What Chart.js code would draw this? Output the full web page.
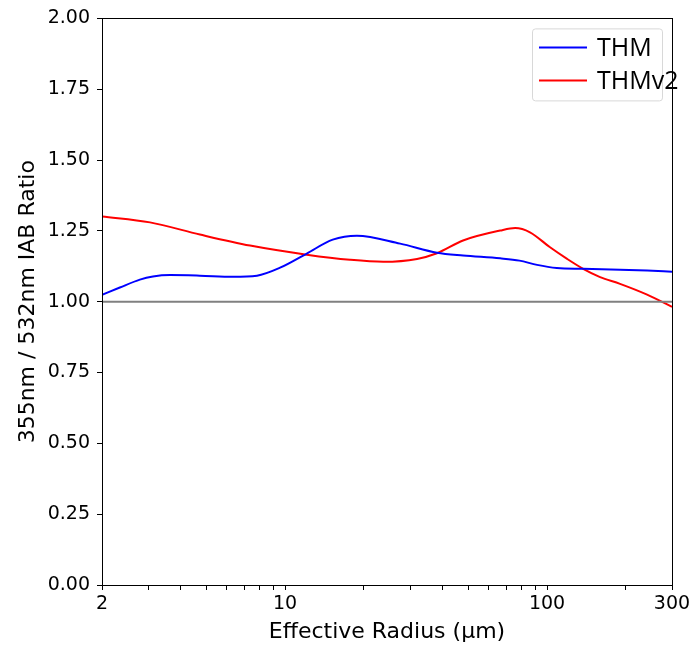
<!DOCTYPE html>
<html>
<head>
<meta charset="utf-8">
<script src="https://cdn.jsdelivr.net/npm/chart.js@4.4.1/dist/chart.umd.min.js"></script>
<style>
  html, body { margin: 0; padding: 0; background: #fff; }
  #wrap { width: 695px; height: 645px; }
</style>
</head>
<body>
<div id="wrap"><canvas id="ratioChart"></canvas></div>
<script>
// data
const radiusThm = [2, 2.34, 2.79, 3.13, 3.64, 4.73, 6.32, 7.81, 9.57, 12.1, 15.2, 18.8, 27.5, 38, 47.8, 66.2, 78.5, 91.6, 109, 137, 190, 241, 300];
const ratioThm  = [1.024, 1.05, 1.078, 1.089, 1.094, 1.092, 1.088, 1.092, 1.12, 1.17, 1.219, 1.233, 1.205, 1.173, 1.163, 1.153, 1.145, 1.13, 1.119, 1.116, 1.113, 1.11, 1.106];
const radiusThm2 = [2, 3.05, 4.73, 7.35, 12.1, 17.7, 23.7, 31.9, 38, 47.8, 66.2, 75.6, 86.1, 102.7, 119.3, 137.4, 159.4, 190, 241, 300];
const ratioThm2  = [1.301, 1.28, 1.237, 1.198, 1.166, 1.148, 1.141, 1.151, 1.171, 1.216, 1.251, 1.26, 1.245, 1.192, 1.151, 1.116, 1.087, 1.063, 1.025, 0.982];
const refRadius = [2, 300];
const refRatio  = [1.0, 1.0];
const xTicks = [2, 3, 4, 5, 6, 7, 8, 9, 10, 20, 30, 40, 50, 60, 70, 80, 90, 100, 200, 300];
const xLabelled = [2, 10, 100, 300];
const yTicks = [0, 0.25, 0.5, 0.75, 1.0, 1.25, 1.5, 1.75, 2.0];

function toPoints(xs, ys) {
    return xs.map((x, i) => ({ x: x, y: ys[i] }));
}

// box round the plot area, like matplotlib
const frameBox = {
    id: 'frameBox',
    afterDatasetsDraw(chart) {
        const a = chart.chartArea, ctx = chart.ctx;
        ctx.save();
        ctx.strokeStyle = '#000';
        ctx.lineWidth = 1;
        ctx.strokeRect(Math.round(a.left) + 0.5, Math.round(a.top) + 0.5,
            Math.round(a.right - a.left), Math.round(a.bottom - a.top));
        ctx.restore();
    }
};

// legend drawn inside the plot, top right
const boxLegend = {
    id: 'boxLegend',
    afterDraw(chart) {
        const ctx = chart.ctx;
        const a = chart.chartArea;
        const items = chart.data.datasets.filter(d => d.label);
        const x0 = a.right - 140, y0 = a.top + 10, w = 130, h = 72;
        ctx.save();
        ctx.fillStyle = 'rgba(255,255,255,0.85)';
        ctx.strokeStyle = '#d8d8d8';
        ctx.lineWidth = 1;
        ctx.beginPath();
        ctx.roundRect(x0 + 0.5, y0 + 0.5, w, h, 3);
        ctx.fill();
        ctx.stroke();
        ctx.font = '25px "Open Sans", sans-serif';
        ctx.textBaseline = 'middle';
        items.forEach((d, i) => {
            const yy = y0 + 19 + i * 33;
            ctx.strokeStyle = d.borderColor;
            ctx.lineWidth = 2;
            ctx.beginPath();
            ctx.moveTo(x0 + 7, yy);
            ctx.lineTo(x0 + 55, yy);
            ctx.stroke();
            ctx.fillStyle = '#000';
            ctx.fillText(d.label, x0 + 65, yy + 1);
        });
        ctx.restore();
    }
};

const ctx = document.getElementById('ratioChart').getContext('2d');
const ratioChart = new Chart(ctx, {
    type: 'line',
    data: {
        datasets: [
            {
                label: '',
                data: toPoints(refRadius, refRatio),
                borderColor: '#808080',
                borderWidth: 2,
                pointRadius: 0,
                tension: 0
            },
            {
                label: 'THM',
                data: toPoints(radiusThm, ratioThm),
                borderColor: '#0000ff',
                borderWidth: 2,
                pointRadius: 0,
                cubicInterpolationMode: 'monotone'
            },
            {
                label: 'THMv2',
                data: toPoints(radiusThm2, ratioThm2),
                borderColor: '#ff0000',
                borderWidth: 2,
                pointRadius: 0,
                cubicInterpolationMode: 'monotone'
            }
        ]
    },
    options: {
        responsive: true,
        maintainAspectRatio: false,
        animation: false,
        layout: { padding: { left: 0, top: 18, right: 23, bottom: 0 } },
        plugins: {
            legend: { display: false },
            tooltip: { enabled: false }
        },
        scales: {
            x: {
                type: 'logarithmic',
                min: 2,
                max: 300,
                afterBuildTicks: (scale) => {
                    scale.ticks = xTicks.map(v => ({ value: v }));
                },
                afterFit: (scale) => { scale.height = 60; },
                ticks: {
                    autoSkip: false,
                    maxRotation: 0,
                    color: '#000',
                    padding: 3,
                    font: { family: 'DejaVu Sans', size: 19 },
                    callback: (v) => xLabelled.includes(v) ? String(v) : ''
                },
                grid: {
                    drawOnChartArea: false,
                    tickLength: 5,
                    color: '#000'
                },
                border: { color: '#000' },
                title: {
                    display: true,
                    text: 'Effective Radius (μm)',
                    color: '#000',
                    padding: { top: 0, bottom: 0 },
                    font: { family: 'DejaVu Sans', size: 22 }
                }
            },
            y: {
                min: 0,
                max: 2,
                afterBuildTicks: (scale) => {
                    scale.ticks = yTicks.map(v => ({ value: v }));
                },
                afterFit: (scale) => { scale.width = 102; },
                ticks: {
                    color: '#000',
                    padding: 7,
                    font: { family: 'DejaVu Sans', size: 19 },
                    callback: (v) => v.toFixed(2)
                },
                grid: {
                    drawOnChartArea: false,
                    tickLength: 5,
                    color: '#000'
                },
                border: { color: '#000' },
                title: {
                    display: true,
                    text: '355nm / 532nm IAB Ratio',
                    color: '#000',
                    padding: { top: 15, bottom: 0 },
                    font: { family: 'DejaVu Sans', size: 22 }
                }
            }
        }
    },
    plugins: [frameBox, boxLegend]
});
</script>
</body>
</html>
